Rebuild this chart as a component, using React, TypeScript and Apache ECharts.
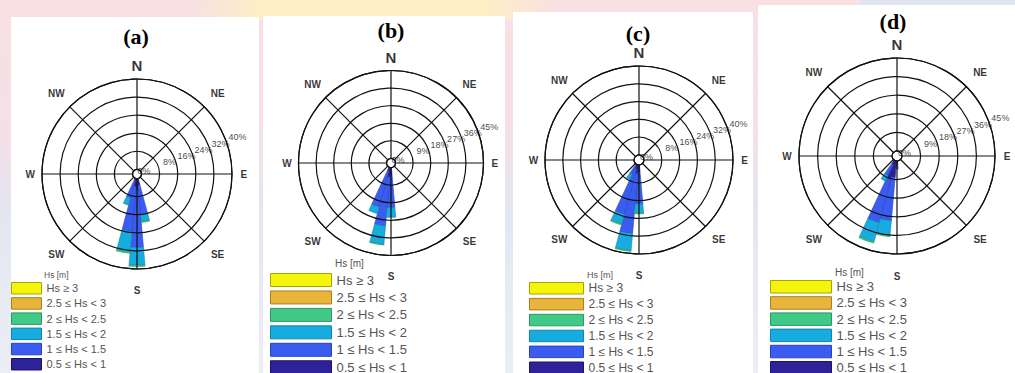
import React, { useEffect, useRef } from "react";
import * as echarts from "echarts";

// 36 direction bins of 10°, bin centres from North clockwise
const DIRECTION_BINS = Array.from({ length: 36 }, (_, i) => String(i * 10));

const HS_CLASSES = ["0.5 ≤ Hs < 1", "1 ≤ Hs < 1.5", "1.5 ≤ Hs < 2", "2 ≤ Hs < 2.5", "2.5 ≤ Hs < 3", "Hs ≥ 3"];
const HS_COLORS = ["#2e2299", "#3b5cf0", "#17ace0", "#40c987", "#e8b43a", "#f5f50c"];
const HS_EDGES = ["#1c146a", "#2743c0", "#0f85b0", "#2a9a60", "#a8801e", "#a8a400"];
const LEGEND_ORDER = [...HS_CLASSES].reverse();

const COMPASS = ["N", "NE", "E", "SE", "S", "SW", "W", "NW"];

// (a) frequency [%] per Hs class (rows) for each populated bin (columns)
const BINS_A = [170, 180, 190, 200];
const FREQ_A = [
  [3, 5, 3.5, 1],
  [13, 25.5, 20, 8],
  [3, 7.8, 9.1, 3],
  [0.5, 0.6, 0.6, 0.3],
  [0, 0, 0, 0],
  [0, 0, 0, 0],
];
const RINGS_A = [0, 8, 16, 24, 32, 40];

// (b)
const BINS_B = [180, 190, 200];
const FREQ_B = [
  [4, 5, 2],
  [16.5, 25, 19],
  [5, 9.5, 3.5],
  [0, 0.3, 0],
  [0, 0, 0],
  [0, 0, 0],
];
const RINGS_B = [0, 9, 18, 27, 36, 45];

// (c)
const BINS_C = [180, 190, 200, 210];
const FREQ_C = [
  [3, 4, 2, 0.5],
  [14.5, 27, 21, 4.5],
  [4, 7.6, 4.5, 2.5],
  [0.5, 0.4, 0.5, 0],
  [0, 0, 0, 0],
  [0, 0, 0, 0],
];
const RINGS_C = [0, 8, 16, 24, 32, 40];

// (d)
const BINS_D = [180, 190, 200, 210];
const FREQ_D = [
  [2, 8, 9, 2],
  [1.5, 21, 22, 6],
  [0.5, 7.3, 9.5, 3],
  [0, 0.5, 0.7, 0],
  [0, 0, 0, 0],
  [0, 0, 0, 0],
];
const RINGS_D = [0, 9, 18, 27, 36, 45];

// Layout of the four panels
const COMPASS_REACH = [1.15, 1.21, 1.13, 1.21, 1.24, 1.21, 1.13, 1.21];
const PANELS = [
  {
    title: "(a)", tx: 136, ty: 36, cx: 137, cy: 174, r: 95, hole: 4.5,
    box: [11, 17, 248, 356],
    legend: { left: 11, top: 282, w: 30, h: 11.5, gap: 2.7, font: 11 },
    hs: { x: 44, y: 275, font: 8.5 },
    bins: BINS_A, freq: FREQ_A, rings: RINGS_A,
  },
  {
    title: "(b)", tx: 391, ty: 30, cx: 391, cy: 163, r: 92.5, hole: 4.5,
    box: [263, 16, 242, 357],
    legend: { left: 270, top: 273, w: 61, h: 13, gap: 3.45, font: 13 },
    hs: { x: 335, y: 263, font: 10 },
    bins: BINS_B, freq: FREQ_B, rings: RINGS_B,
  },
  {
    title: "(c)", tx: 638, ty: 33, cx: 639, cy: 160, r: 94, hole: 5,
    box: [513, 12, 240, 361],
    legend: { left: 529, top: 282, w: 54, h: 11.5, gap: 3.4, font: 12 },
    hs: { x: 587, y: 275, font: 9 },
    bins: BINS_C, freq: FREQ_C, rings: RINGS_C,
  },
  {
    title: "(d)", tx: 893, ty: 21, cx: 897, cy: 156, r: 98, hole: 5,
    box: [758, 5, 257, 368],
    legend: { left: 770, top: 280, w: 61, h: 12.5, gap: 2.7, font: 13 },
    hs: { x: 835, y: 272, font: 10 },
    bins: BINS_D, freq: FREQ_D, rings: RINGS_D,
  },
];

const SANS = "'Liberation Sans', Arial, sans-serif";
const GRID_LINE = { color: "#111", width: 1.2 };

function buildOption() {
  const polar: any[] = [];
  const angleAxis: any[] = [];
  const radiusAxis: any[] = [];
  const series: any[] = [];
  const legend: any[] = [];
  const elements: any[] = [
    {
      type: "rect",
      shape: { x: 0, y: 0, width: 1015, height: 373 },
      style: {
        fill: {
          type: "linear", x: 0, y: 0, x2: 0, y2: 1,
          colorStops: [
            { offset: 0, color: "#f8e0e3" },
            { offset: 0.35, color: "#f6e0e6" },
            { offset: 0.55, color: "#e3e5f1" },
            { offset: 1, color: "#eceef6" },
          ],
        },
      },
      z: -10,
    },
    {
      type: "rect",
      shape: { x: 190, y: 0, width: 370, height: 20 },
      style: {
        fill: {
          type: "linear", x: 0, y: 0, x2: 1, y2: 0,
          colorStops: [
            { offset: 0, color: "rgba(252,240,196,0)" },
            { offset: 0.2, color: "#fcefc6" },
            { offset: 0.8, color: "#fcefc6" },
            { offset: 1, color: "rgba(252,240,196,0)" },
          ],
        },
      },
      z: -9,
    },
    {
      type: "rect",
      shape: { x: 860, y: 0, width: 155, height: 6 },
      style: { fill: "#dfe4f0" },
      z: -9,
    },
  ];

  PANELS.forEach((p, i) => {
    const max = p.rings[p.rings.length - 1];
    const barPolar = 2 * i;
    const gridPolar = 2 * i + 1;
    const pxPerUnit = (p.r - p.hole) / max;

    elements.push({
      type: "rect",
      shape: { x: p.box[0], y: p.box[1], width: p.box[2], height: p.box[3] },
      style: { fill: "#ffffff" },
      z: -8,
    });
    elements.push({
      type: "text",
      x: p.tx,
      y: p.ty,
      style: {
        text: p.title,
        fontFamily: "'Liberation Serif', 'Times New Roman', serif",
        fontWeight: "bold",
        fontSize: 22,
        fill: "#000",
        align: "center",
        verticalAlign: "middle",
      },
      z: 20,
    });
    elements.push({
      type: "text",
      x: p.hs.x,
      y: p.hs.y,
      style: {
        text: "Hs [m]",
        fontFamily: SANS,
        fontSize: p.hs.font,
        fill: "#555",
        align: "left",
        verticalAlign: "middle",
      },
      z: 20,
    });

    polar.push(
      { center: [p.cx, p.cy], radius: [p.hole, p.r] },
      { center: [p.cx, p.cy], radius: [p.hole, p.r] }
    );

    angleAxis.push(
      {
        polarIndex: barPolar,
        type: "category",
        data: DIRECTION_BINS,
        startAngle: 95,
        clockwise: true,
        boundaryGap: true,
        show: false,
      },
      {
        polarIndex: gridPolar,
        type: "value",
        min: 0,
        max: 360,
        interval: 45,
        startAngle: 90,
        clockwise: true,
        z: 10,
        axisLine: { show: true, lineStyle: GRID_LINE },
        axisTick: { show: false },
        axisLabel: { show: false },
        splitLine: { show: true, lineStyle: GRID_LINE },
      }
    );

    radiusAxis.push(
      { polarIndex: barPolar, type: "value", min: 0, max, show: false },
      {
        polarIndex: gridPolar,
        type: "value",
        min: 0,
        max,
        interval: max / 5,
        z: 10,
        axisLine: { show: false },
        axisTick: { show: false },
        axisLabel: { show: false },
        splitLine: { show: true, lineStyle: GRID_LINE },
      }
    );

    // stacked wedges, one series per Hs class
    HS_CLASSES.forEach((name, k) => {
      const data: (number | null)[] = DIRECTION_BINS.map(() => null);
      p.bins.forEach((deg, j) => {
        const v = p.freq[k][j];
        if (v > 0) data[deg / 10] = v;
      });
      series.push({
        type: "bar",
        name,
        coordinateSystem: "polar",
        polarIndex: barPolar,
        stack: "rose" + i,
        barCategoryGap: "0%",
        data,
        itemStyle: { color: HS_COLORS[k], borderColor: HS_EDGES[k], borderWidth: 0.6 },
        emphasis: { disabled: true },
        z: 2,
      });
    });

    // compass point labels
    series.push({
      type: "scatter",
      coordinateSystem: "polar",
      polarIndex: gridPolar,
      symbolSize: 1,
      clip: false,
      silent: true,
      itemStyle: { color: "transparent" },
      z: 12,
      data: COMPASS.map((name, n) => ({
        name,
        value: [max * COMPASS_REACH[n], n * 45],
        label: { fontSize: name === "N" ? 15 : 10 },
      })),
      label: {
        show: true,
        position: "inside",
        formatter: "{b}",
        color: "#000",
        fontWeight: "bold",
        fontFamily: SANS,
      },
    });

    // ring percentage labels
    series.push({
      type: "scatter",
      coordinateSystem: "polar",
      polarIndex: gridPolar,
      symbolSize: 1,
      clip: false,
      silent: true,
      itemStyle: { color: "transparent" },
      z: 12,
      data: p.rings.map((t) => ({
        name: t + "%",
        value: [t + (t === 0 ? 3 : 12) / pxPerUnit, 70],
      })),
      label: {
        show: true,
        position: "inside",
        formatter: "{b}",
        color: "#111",
        fontWeight: "normal",
        fontSize: 9,
        fontFamily: SANS,
      },
    });

    legend.push({
      orient: "vertical",
      left: p.legend.left,
      top: p.legend.top,
      height: 200,
      padding: 0,
      itemWidth: p.legend.w,
      itemHeight: p.legend.h,
      itemGap: p.legend.gap,
      icon: "rect",
      selectedMode: false,
      data: LEGEND_ORDER,
      itemStyle: { borderWidth: 1 },
      textStyle: {
        fontSize: p.legend.font,
        color: "#555",
        fontFamily: SANS,
        lineHeight: p.legend.h,
      },
    });
  });

  return {
    animation: false,
    polar,
    angleAxis,
    radiusAxis,
    legend,
    series,
    graphic: { elements },
  };
}

export default function App() {
  const ref = useRef<HTMLDivElement>(null);
  useEffect(() => {
    document.body.style.margin = "0";
    const chart = echarts.init(ref.current!, null, { renderer: "svg" });
    chart.setOption(buildOption());
    return () => chart.dispose();
  }, []);
  return <div ref={ref} style={{ width: 1015, height: 373 }} />;
}
